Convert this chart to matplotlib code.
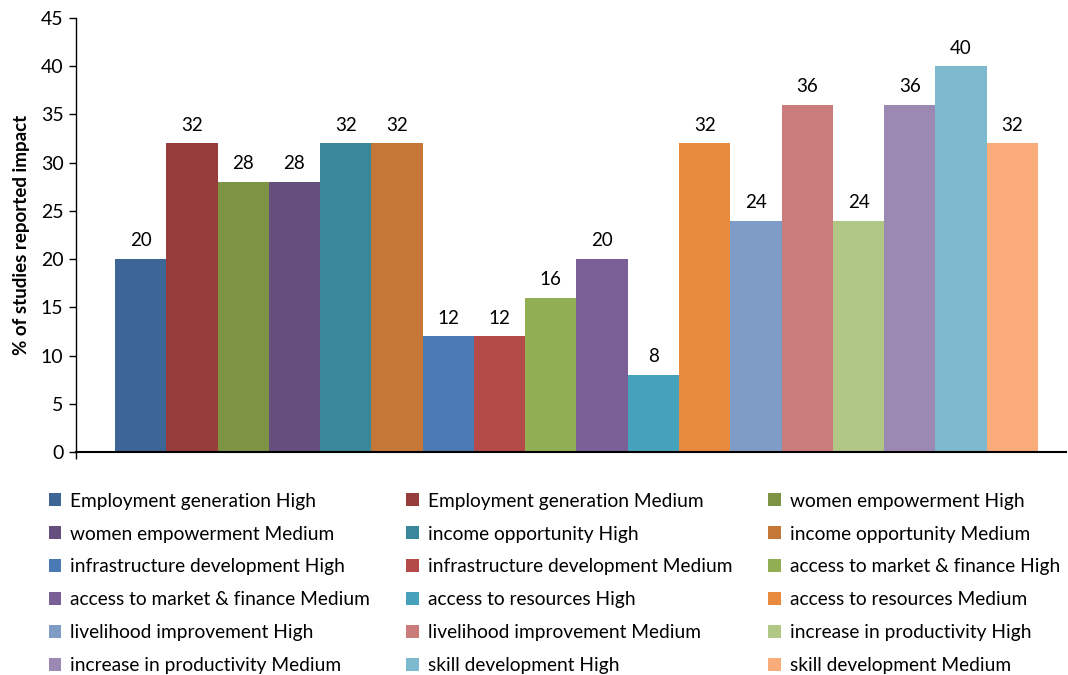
import matplotlib.pyplot as plt
from matplotlib.patches import Patch

plt.rcParams["font.family"] = ["Lato", "DejaVu Sans"]

impacts = ["Employment generation", "women empowerment", "income opportunity",
           "infrastructure development", "access to market & finance",
           "access to resources", "livelihood improvement",
           "increase in productivity", "skill development"]
levels = ["High", "Medium"]
values = [20, 32, 28, 28, 32, 32, 12, 12, 16, 20, 8, 32, 24, 36, 24, 36, 40, 32]
colors = ["#3D6596", "#963C3B", "#7D9444", "#654F7E", "#3A879A", "#C47736",
          "#4A7AB3", "#B54B49", "#92AE53", "#7A6097", "#46A2BC", "#E98B3E",
          "#7F9CC7", "#CA7C7B", "#B1C785", "#9C89B3", "#7DBAD0", "#F9AC7A"]
labels = [f"{imp} {lev}" for imp in impacts for lev in levels]

fig = plt.figure(figsize=(10.68, 6.75), dpi=100)
ax = fig.add_axes([76 / 1068, 1 - 452 / 675, 990 / 1068, 434 / 675])

x = range(len(values))
bars = ax.bar(list(x), values, width=1.0, color=colors, linewidth=0)
for b, v in zip(bars, values):
    ax.text(b.get_x() + b.get_width() / 2, v + 1.0, str(v),
            ha="center", va="bottom", fontsize=13.5)

x_left = -0.5 - 39 / 51.28
ax.set_xlim(x_left, 17.5 + 28 / 51.28)
ax.set_ylim(0, 45)
ax.set_yticks(range(0, 46, 5))
ax.set_xticks([x_left])
ax.set_xticklabels([])
ax.tick_params(axis="both", direction="out", length=5, width=1, labelsize=14, pad=4)
for s in ["top", "right"]:
    ax.spines[s].set_visible(False)
ax.spines["left"].set_linewidth(1)
ax.spines["bottom"].set_linewidth(1.5)
ax.set_ylabel("% of studies reported impact", fontsize=13.5, fontweight="bold", labelpad=8)

handles = [Patch(facecolor=c, label=l) for c, l in zip(colors, labels)]
order = [3 * r + c for c in range(3) for r in range(6)]
fig.legend([handles[i] for i in order], [labels[i] for i in order],
           loc="upper left", bbox_to_anchor=(41 / 1068, 1 - 485 / 675),
           ncol=3, frameon=False, fontsize=13.8, handlelength=0.66, handleheight=0.66,
           handletextpad=0.45, columnspacing=1.9, labelspacing=0.83, borderaxespad=0)

fig.savefig("out.png", dpi=100)
